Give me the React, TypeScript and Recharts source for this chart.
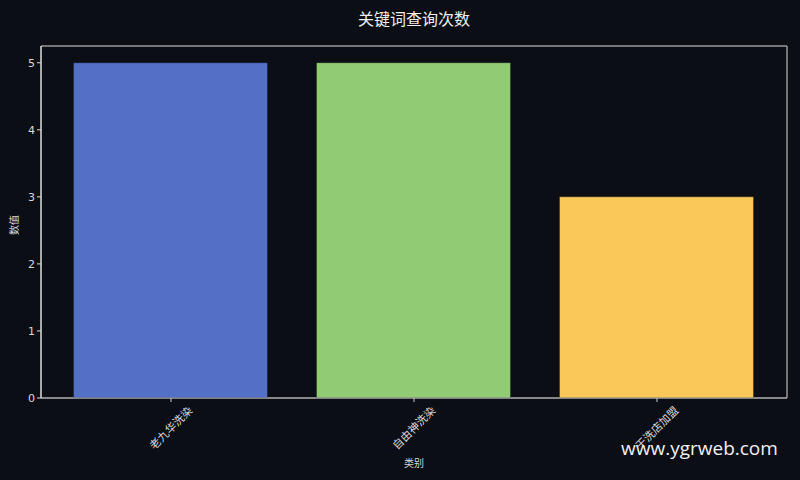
import { Bar, BarChart, Cell, ReferenceArea, XAxis, YAxis } from "recharts";

const categories = ["老九华洗染", "自由神洗染", "干洗店加盟"];
const counts = [5, 5, 3];
const barColors = ["#5470c6", "#91cc75", "#fac858"];
const yTicks = [0, 1, 2, 3, 4, 5];
const xTicks = [0, 1, 2];

const rows = categories.map((name, i) => ({ pos: i, name, value: counts[i] }));

const font = "'DejaVu Sans', 'Noto Sans CJK SC', sans-serif";
const textColor = "#d8d8d8";

// matplotlib-style 45° label, centred under its tick
function RotatedTick({ x, y, payload }: any) {
  return (
    <g transform={`translate(${x},${y + 24})`}>
      <text
        transform="rotate(-45)"
        textAnchor="middle"
        dy="0.35em"
        fill={textColor}
        fontSize={11}
        fontFamily={font}
      >
        {categories[payload.value]}
      </text>
    </g>
  );
}

export default function App() {
  return (
    <div style={{ position: "relative", width: 800, height: 480, background: "#0b0e14", fontFamily: font }}>
      <style>{`body{margin:0;background:#0b0e14}`}</style>
      <div
        style={{
          position: "absolute",
          top: 6,
          left: 41,
          width: 746,
          textAlign: "center",
          color: "#eeeeee",
          fontSize: 16
        }}
      >
        关键词查询次数
      </div>
      <div
        style={{
          position: "absolute",
          left: 6,
          top: 225,
          color: textColor,
          fontSize: 10,
          transform: "rotate(-90deg)",
          transformOrigin: "left top"
        }}
      >
        <span style={{ position: "relative", left: -10 }}>数值</span>
      </div>
      <div
        style={{
          position: "absolute",
          top: 455,
          left: 41,
          width: 746,
          textAlign: "center",
          color: textColor,
          fontSize: 10
        }}
      >
        类别
      </div>
      <BarChart
        width={800}
        height={480}
        data={rows}
        margin={{ top: 46, right: 13, bottom: 0, left: 0 }}
        barSize={194}
      >
        <ReferenceArea y1={0} y2={5.25} fill="none" stroke="#dddddd" strokeWidth={1} fillOpacity={0} />
        <XAxis
          dataKey="pos"
          type="number"
          domain={[-0.535, 2.535]}
          ticks={xTicks}
          allowDataOverflow
          height={82}
          stroke="#9a9a9a"
          tickLine={{ stroke: "#cccccc" }}
          tickSize={4}
          interval={0}
          tick={<RotatedTick />}
        />
        <YAxis
          width={41}
          domain={[0, 5.25]}
          ticks={yTicks}
          stroke="#dddddd"
          tickSize={4}
          tick={{ fill: textColor, fontSize: 11, fontFamily: font }}
        />
        <Bar dataKey="value" isAnimationActive={false} stroke="rgba(0,0,0,0.3)" strokeWidth={1}>
          {rows.map((row, i) => (
            <Cell key={row.name} fill={barColors[i]} />
          ))}
        </Bar>
      </BarChart>
      <div
        style={{
          position: "absolute",
          left: 621,
          top: 435,
          color: "#f0f0f0",
          fontSize: 19,
          fontFamily: "'Open Sans', 'DejaVu Sans', sans-serif"
        }}
      >
        www.ygrweb.com
      </div>
    </div>
  );
}
